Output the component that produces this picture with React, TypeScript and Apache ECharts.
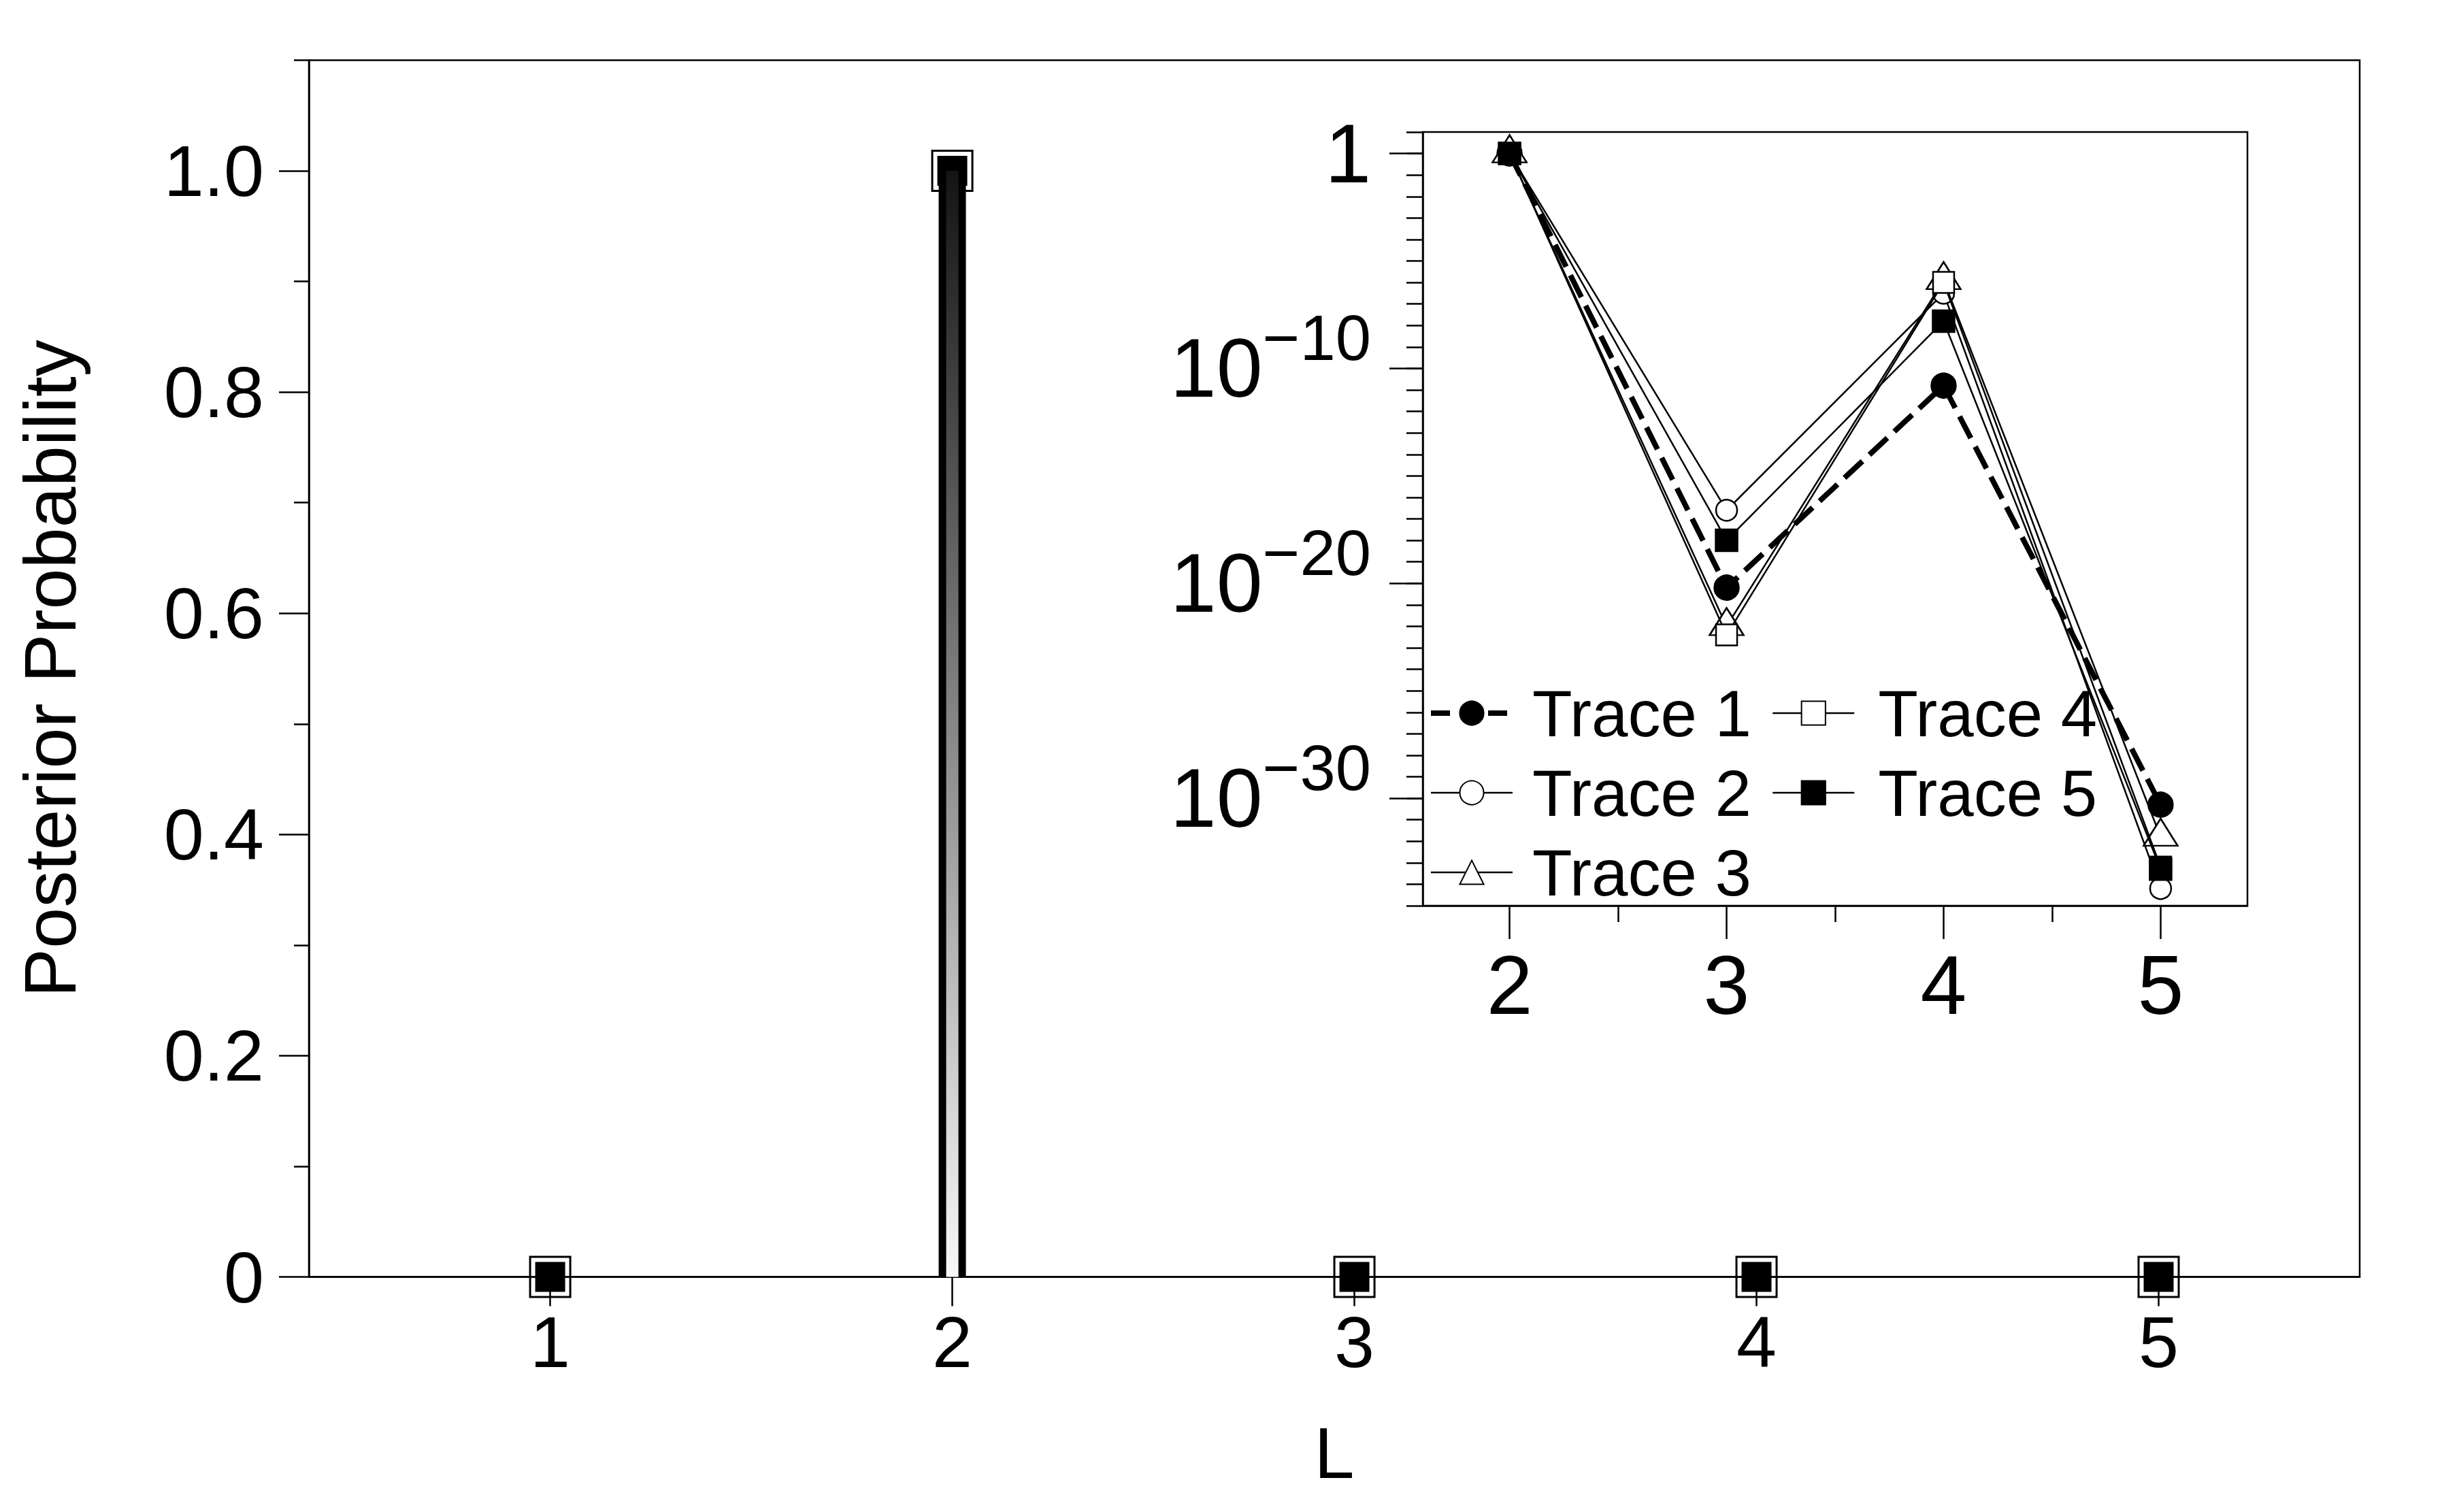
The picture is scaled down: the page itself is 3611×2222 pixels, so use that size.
import React, { useEffect, useRef } from "react";
import * as echarts from "echarts";

// ---------- main panel data ----------
const L_VALUES = [1, 2, 3, 4, 5];
const POSTERIOR = [0, 1, 0, 0, 0];
const MAIN_Y_TICKS = [0, 0.2, 0.4, 0.6, 0.8, 1.0];
const MAIN_Y_LABELS = ["0", "0.2", "0.4", "0.6", "0.8", "1.0"];
const MAIN_Y_MINOR = [0.1, 0.3, 0.5, 0.7, 0.9, 1.1];
const MAIN_X_TICKS = [1, 2, 3, 4, 5];

// ---------- inset data (log10 of posterior probability) ----------
const INSET_L = [2, 3, 4, 5];
const TRACE_NAMES = ["Trace 1", "Trace 2", "Trace 3", "Trace 4", "Trace 5"];
const TRACE1 = [0, -20.2, -10.8, -30.3];
const TRACE2 = [0, -16.6, -6.5, -34.2];
const TRACE3 = [0, -22.0, -5.9, -31.8];
const TRACE4 = [0, -22.4, -6.0, -33.2];
const TRACE5 = [0, -18.0, -7.8, -33.3];
const INSET_Y_MAJOR = [0, -10, -20, -30];
const INSET_Y_MINOR = Array.from({ length: 37 }, (_, i) => 1 - i);
const INSET_X_MAJOR = [2, 3, 4, 5];
const INSET_X_MINOR = [2.5, 3.5, 4.5];

const FONT = "'Liberation Sans', Arial, Helvetica, sans-serif";

export default function App() {
  const ref = useRef<HTMLDivElement>(null);

  useEffect(() => {
    if (!ref.current) return;
    const chart = echarts.init(ref.current, undefined, { renderer: "svg" });

    const pairs = (xs: number[], ys: number[]) => xs.map((x, i) => [x, ys[i]]);
    const traces = [TRACE1, TRACE2, TRACE3, TRACE4, TRACE5];
    const traceStyles = [
      { symbol: "circle", size: 36, fill: "#000", line: { width: 8, type: [36, 14] } },
      { symbol: "circle", size: 31, fill: "#fff", line: { width: 2.5, type: "solid" } },
      { symbol: "triangle", size: [50, 40], fill: "#fff", offset: [0, -7], line: { width: 2.5, type: "solid" } },
      { symbol: "rect", size: 31, fill: "#fff", line: { width: 2.5, type: "solid" } },
      { symbol: "rect", size: 32, fill: "#000", line: { width: 2.5, type: "solid" } },
    ];

    const axisBase = {
      axisLine: { show: true, onZero: false, lineStyle: { color: "#000", width: 2.5 } },
      splitLine: { show: false },
    };
    const legendItem = (i: number) => ({
      name: TRACE_NAMES[i],
      lineStyle: {
        width: traceStyles[i].line.width,
        type: i === 0 ? [28, 14] : traceStyles[i].line.type,
        color: "#000",
      },
    });
    const legendBase = {
      orient: "vertical", top: 1000, padding: 0,
      itemWidth: 120, itemHeight: 44, itemGap: 21, selectedMode: false,
    };

    const option: any = {
      animation: false,
      backgroundColor: "#fff",
      textStyle: { fontFamily: FONT, color: "#000" },
      grid: [
        {
          left: 454, top: 88.5, width: 3014, height: 1788,
          show: true, borderColor: "#000", borderWidth: 2.5, backgroundColor: "transparent",
        },
        {
          left: 2091, top: 194, width: 1212, height: 1137,
          show: true, borderColor: "#000", borderWidth: 2.5, backgroundColor: "#fff",
        },
      ],
      xAxis: [
        {
          ...axisBase, type: "value", gridIndex: 0, position: "bottom", min: 0.4, max: 5.5,
          axisTick: { show: true, customValues: MAIN_X_TICKS, length: 43, lineStyle: { color: "#000", width: 2.5 } },
          axisLabel: { customValues: MAIN_X_TICKS, fontSize: 106, color: "#000", fontFamily: FONT, margin: 42 },
          name: "L", nameLocation: "middle", nameGap: 205,
          nameTextStyle: { fontSize: 106, color: "#000", fontFamily: FONT },
        },
        { type: "value", gridIndex: 0, min: 0.4, max: 5.5, show: false },
        {
          ...axisBase, type: "value", gridIndex: 1, position: "bottom", min: 1.6, max: 5.4,
          axisTick: { show: true, customValues: INSET_X_MAJOR, length: 49, lineStyle: { color: "#000", width: 2.5 } },
          axisLabel: { customValues: INSET_X_MAJOR, fontSize: 122, color: "#000", fontFamily: FONT, margin: 56 },
        },
        {
          type: "value", gridIndex: 1, position: "bottom", min: 1.6, max: 5.4,
          axisLine: { show: false, onZero: false }, splitLine: { show: false },
          axisTick: { show: true, customValues: INSET_X_MINOR, length: 24, lineStyle: { color: "#000", width: 2.5 } },
          axisLabel: { show: false },
        },
      ],
      yAxis: [
        {
          ...axisBase, type: "value", gridIndex: 0, position: "left", min: 0, max: 1.1,
          axisTick: { show: true, customValues: MAIN_Y_TICKS, length: 44, lineStyle: { color: "#000", width: 2.5 } },
          axisLabel: {
            customValues: MAIN_Y_TICKS, fontSize: 106, color: "#000", fontFamily: FONT, margin: 66,
            formatter: (v: number) => {
              const i = MAIN_Y_TICKS.findIndex((t) => Math.abs(t - v) < 1e-9);
              return i >= 0 ? MAIN_Y_LABELS[i] : "";
            },
          },
          name: "Posterior Probability", nameLocation: "middle", nameGap: 327, nameRotate: 90,
          nameTextStyle: { fontSize: 108, color: "#000", fontFamily: FONT },
        },
        {
          type: "value", gridIndex: 0, position: "left", min: 0, max: 1.1,
          axisLine: { show: false, onZero: false }, splitLine: { show: false },
          axisTick: { show: true, customValues: MAIN_Y_MINOR, length: 22, lineStyle: { color: "#000", width: 2.5 } },
          axisLabel: { show: false },
        },
        {
          ...axisBase, type: "value", gridIndex: 1, position: "left", min: -35, max: 1,
          axisTick: { show: true, customValues: INSET_Y_MAJOR, length: 49, lineStyle: { color: "#000", width: 2.5 } },
          axisLabel: {
            customValues: INSET_Y_MAJOR, margin: 76,
            formatter: (v: number) => (Math.abs(v) < 1e-9 ? "{b|1}" : "{b|10}{s|\u2212" + Math.abs(Math.round(v)) + "}"),
            rich: {
              b: { fontSize: 122, lineHeight: 184, color: "#000", fontFamily: FONT },
              s: { fontSize: 94, verticalAlign: "top", color: "#000", fontFamily: FONT },
            },
          },
        },
        {
          type: "value", gridIndex: 1, position: "left", min: -35, max: 1,
          axisLine: { show: false, onZero: false }, splitLine: { show: false },
          axisTick: { show: true, customValues: INSET_Y_MINOR, length: 24, lineStyle: { color: "#000", width: 2.5 } },
          axisLabel: { show: false },
        },
      ],
      legend: [
        {
          ...legendBase, left: 2099, data: [0, 1, 2].map(legendItem),
          textStyle: { fontSize: 96, color: "#000", fontFamily: FONT, padding: [0, 0, 0, 24] },
        },
        {
          ...legendBase, left: 2604, data: [3, 4].map(legendItem),
          textStyle: { fontSize: 96, color: "#000", fontFamily: FONT, padding: [0, 0, 0, 30] },
        },
      ],
      series: [
        {
          type: "bar", name: "bar-outline", xAxisIndex: 0, yAxisIndex: 0, barWidth: 40, z: 2,
          data: pairs(L_VALUES, POSTERIOR).filter((p) => p[1] > 0),
          itemStyle: { color: "#000" },
        },
        {
          type: "scatter", name: "open", xAxisIndex: 0, yAxisIndex: 0, symbol: "rect", symbolSize: 59, z: 3,
          data: pairs(L_VALUES, POSTERIOR),
          itemStyle: { color: "none", borderColor: "#000", borderWidth: 3, opacity: 1 },
        },
        {
          type: "scatter", name: "filled", xAxisIndex: 0, yAxisIndex: 0, symbol: "rect", symbolSize: 44, z: 3,
          data: pairs(L_VALUES, POSTERIOR),
          itemStyle: { color: "#000", opacity: 1 },
        },
        {
          type: "bar", name: "bar-fill", xAxisIndex: 1, yAxisIndex: 0, barWidth: 18, z: 4,
          data: pairs(L_VALUES, POSTERIOR).filter((p) => p[1] > 0),
          itemStyle: {
            color: {
              type: "linear", x: 0, y: 0, x2: 0, y2: 1,
              colorStops: [
                { offset: 0, color: "#141414" },
                { offset: 1, color: "#f8f8f8" },
              ],
            },
          },
        },
        ...traces.map((vals, i) => {
          const st: any = traceStyles[i];
          return {
            type: "line", name: TRACE_NAMES[i], xAxisIndex: 2, yAxisIndex: 2, z: 10 + i,
            data: pairs(INSET_L, vals),
            symbol: st.symbol, symbolSize: st.size, symbolOffset: st.offset || [0, 0],
            showAllSymbol: true,
            lineStyle: { color: "#000", width: st.line.width, type: st.line.type, cap: "butt" },
            itemStyle: { color: st.fill, borderColor: "#000", borderWidth: 2.5, opacity: 1 },
            emphasis: { disabled: true },
          };
        }),
      ],
    };

    chart.setOption(option);
    return () => chart.dispose();
  }, []);

  return (
    <div
      ref={ref}
      style={{ position: "absolute", left: 0, top: 0, width: 3611, height: 2222, background: "#fff" }}
    />
  );
}
